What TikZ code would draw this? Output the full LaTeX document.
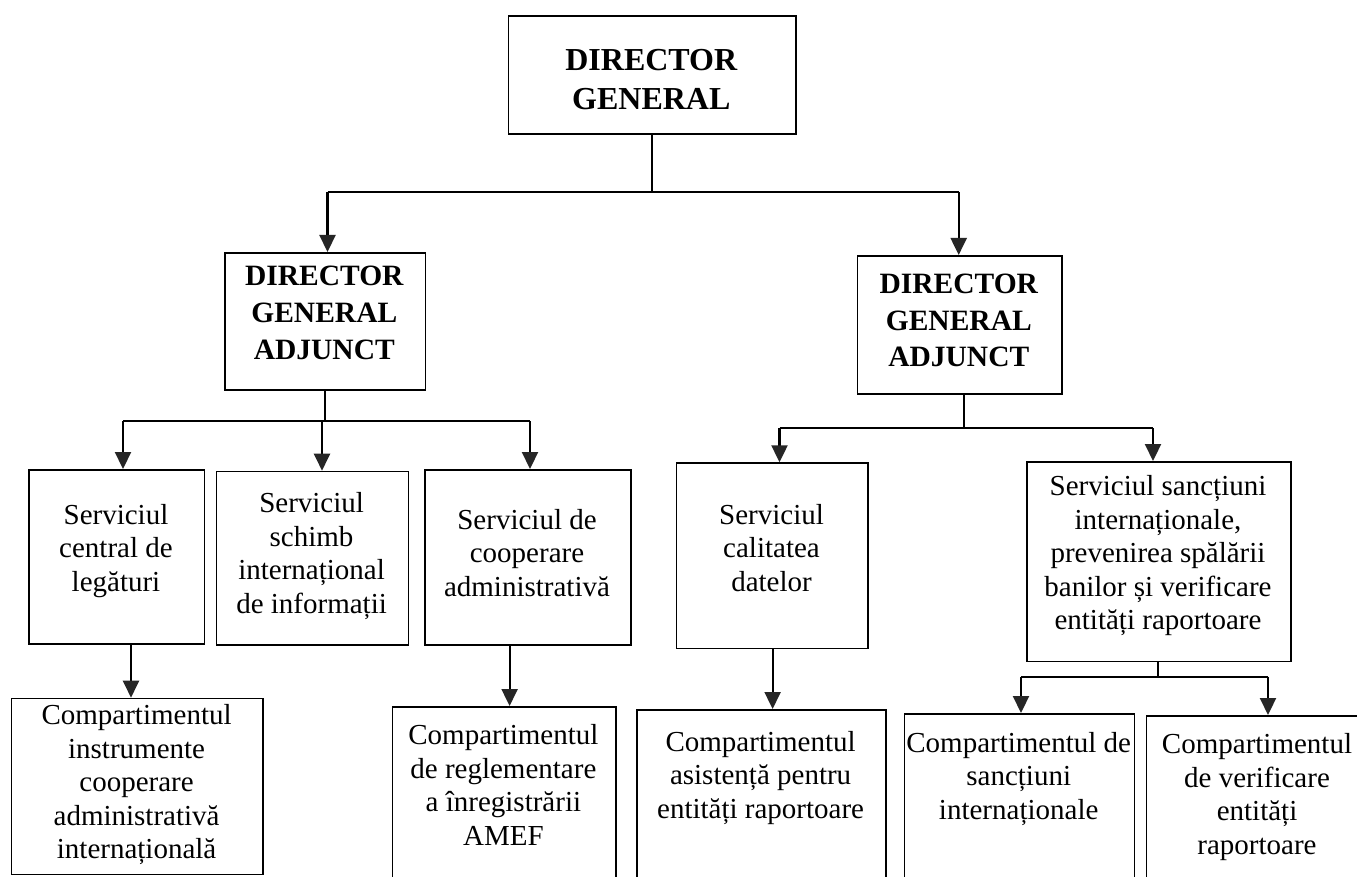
\documentclass[tikz,border=0pt]{standalone}
\usepackage{fontspec}
\setmainfont{Liberation Serif}
\usetikzlibrary{arrows.meta}
\begin{document}
\begin{tikzpicture}[x=1pt,y=-1pt,
  box/.style={draw=black, line width=1.6pt, rectangle, inner sep=0pt, anchor=north west},
  txt/.style={align=center, inner sep=0pt, font=\fontsize{29}{33.5}\selectfont},
  headA/.style={align=center, inner sep=0pt, font=\fontsize{32}{39}\selectfont\bfseries},
  headB/.style={align=center, inner sep=0pt, font=\fontsize{29.5}{36.7}\selectfont\bfseries},
  conn/.style={line width=2.2pt, draw=black},
  arr/.style={conn, -{Triangle[width=16pt,length=17pt,color=black!85]}},
]
\useasboundingbox[fill=white] (0,0) rectangle (1357,877);

% boxes
\node[box, minimum width=287.4pt, minimum height=118pt] (dg) at (507.6,15) {};
\node[box, minimum width=200.5pt, minimum height=137pt] (dgaL) at (224,252) {};
\node[box, minimum width=204.3pt, minimum height=138pt] (dgaR) at (856.7,255) {};
\node[box, minimum width=175.6pt, minimum height=174pt] (A) at (28.2,469) {};
\node[box, minimum width=192.1pt, minimum height=173.3pt] (B) at (215.6,470.7) {};
\node[box, minimum width=206pt, minimum height=175pt] (C) at (424.2,469) {};
\node[box, minimum width=191.6pt, minimum height=185.4pt] (D) at (675.7,462.3) {};
\node[box, minimum width=263.9pt, minimum height=199.7pt] (E) at (1026.4,461) {};
\node[box, minimum width=251.6pt, minimum height=176pt] (A2) at (10.8,697.7) {};
\node[box, minimum width=223.7pt, minimum height=200pt] (C2) at (391.6,706) {};
\node[box, minimum width=248.8pt, minimum height=200pt] (D2) at (636.2,709) {};
\node[box, minimum width=229.7pt, minimum height=200pt] (F) at (903.8,713) {};
\node[box, minimum width=260pt, minimum height=200pt] (G) at (1145.5,715) {};

% texts
\node[headA] (dgT) at (651.3,79.5) {DIRECTOR\\GENERAL};
\node[headB] (dgaLT) at (324.3,313) {DIRECTOR\\GENERAL\\ADJUNCT};
\node[headB] (dgaRT) at (958.8,320.5) {DIRECTOR\\GENERAL\\ADJUNCT};
\node[txt] (AT) at (116,551) {Serviciul\\central de\\legături};
\node[txt] (BT) at (311.6,556) {Serviciul\\schimb\\internațional\\de informații};
\node[txt] (CT) at (527,553) {Serviciul de\\cooperare\\administrativă};
\node[txt] (DT) at (771.5,548) {Serviciul\\calitatea\\datelor};
\node[txt] (ET) at (1158,556) {Serviciul sancțiuni\\internaționale,\\prevenirea spălării\\banilor și verificare\\entități raportoare};
\node[txt] (A2T) at (136.6,785) {Compartimentul\\instrumente\\cooperare\\administrativă\\internațională};
\node[txt] (C2T) at (503.4,785) {Compartimentul\\de reglementare\\a înregistrării\\AMEF};
\node[txt] (D2T) at (760.6,778) {Compartimentul\\asistență pentru\\entități raportoare};
\node[txt] (FT) at (1018.7,779) {Compartimentul de\\sancțiuni\\internaționale};
\node[txt] (GT) at (1257,797) {Compartimentul\\de verificare\\entități\\raportoare};

% level 1
\coordinate (jL) at (327.5,192);
\coordinate (jR) at (958.7,192);
\draw[conn] (dg.south) -- (dg.south |- jL);
\draw[conn] (jL) -- (jR);
\draw[arr] (jL) -- (jL |- dgaL.north);
\draw[arr] (jR) -- (jR |- dgaR.north);

% left adjunct
\coordinate (b1) at (123,421);
\coordinate (b2) at (322,421);
\coordinate (b3) at (530,421);
\draw[conn] (dgaL.south) -- (dgaL.south |- b1);
\draw[conn] (b1) -- (b3);
\draw[arr] (b1) -- (b1 |- A.north);
\draw[arr] (b2) -- (b2 |- B.north);
\draw[arr] (b3) -- (b3 |- C.north);

% right adjunct
\coordinate (rj) at (964,428);
\coordinate (c1) at (779.5,428);
\coordinate (c2) at (1153,428);
\draw[conn] (rj |- dgaR.south) -- (rj);
\draw[conn] (c1) -- (c2);
\draw[arr] (c1) -- (c1 |- D.north);
\draw[arr] (c2) -- (c2 |- E.north);

% services to compartments
\coordinate (xa) at (131,0);
\coordinate (xc) at (509.6,0);
\coordinate (xd) at (772.6,0);
\draw[arr] (xa |- A.south) -- (xa |- A2.north);
\draw[arr] (xc |- C.south) -- (xc |- C2.north);
\draw[arr] (xd |- D.south) -- (xd |- D2.north);

\coordinate (ej) at (1157.7,676.7);
\coordinate (e1) at (1021,676.7);
\coordinate (e2) at (1268,676.7);
\draw[conn] (ej |- E.south) -- (ej);
\draw[conn] (e1) -- (e2);
\draw[arr] (e1) -- (e1 |- F.north);
\draw[arr] (e2) -- (e2 |- G.north);
\end{tikzpicture}
\end{document}
